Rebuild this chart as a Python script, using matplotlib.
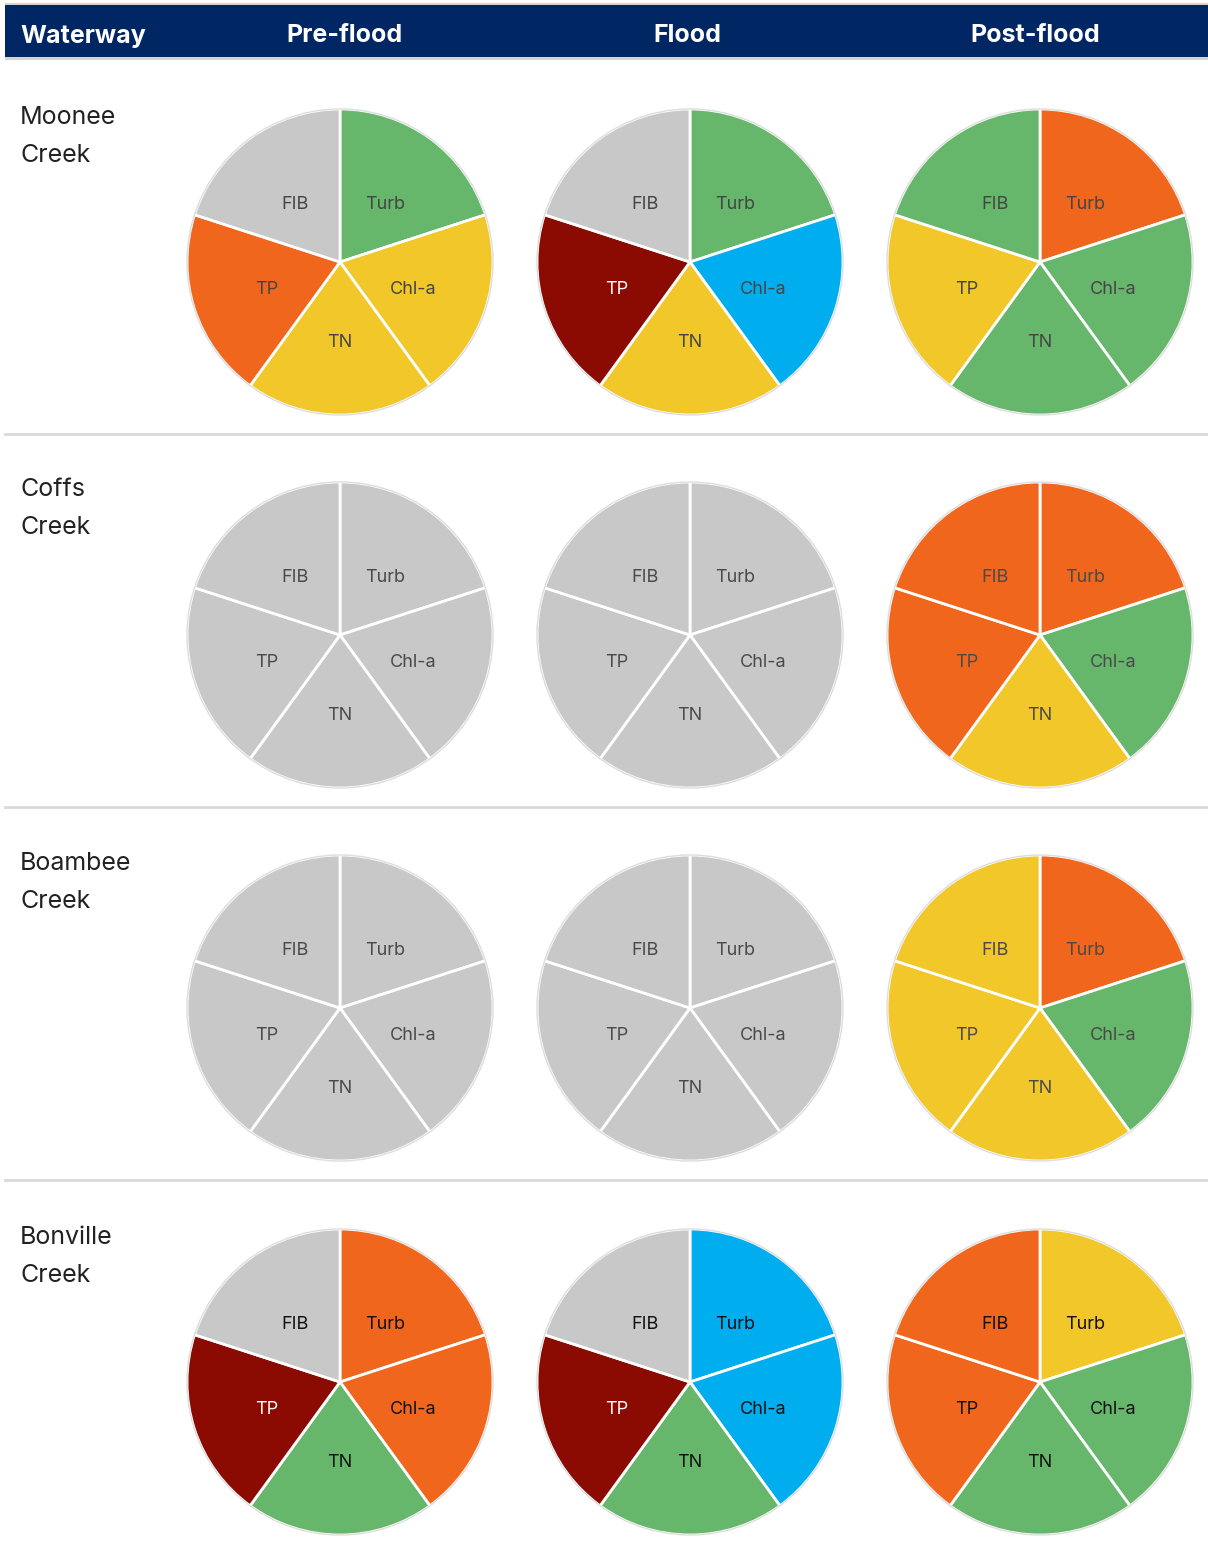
import matplotlib.pyplot as plt
from matplotlib.patches import Rectangle

# indicator slices, clockwise from 12 o'clock
indicators = ['Turb', 'Chl-a', 'TN', 'TP', 'FIB']
waterways = [['Moonee', 'Creek'], ['Coffs', 'Creek'],
             ['Boambee', 'Creek'], ['Bonville', 'Creek']]
periods = ['Pre-flood', 'Flood', 'Post-flood']

# grade per indicator (Turb, Chl-a, TN, TP, FIB)
moonee = [['green', 'yellow', 'yellow', 'orange', 'grey'],
          ['green', 'blue', 'yellow', 'red', 'grey'],
          ['orange', 'green', 'green', 'yellow', 'green']]
coffs = [['grey'] * 5,
         ['grey'] * 5,
         ['orange', 'green', 'yellow', 'orange', 'orange']]
boambee = [['grey'] * 5,
           ['grey'] * 5,
           ['orange', 'green', 'yellow', 'yellow', 'yellow']]
bonville = [['orange', 'orange', 'green', 'red', 'grey'],
            ['blue', 'blue', 'green', 'red', 'grey'],
            ['yellow', 'green', 'green', 'orange', 'orange']]
grades = [moonee, coffs, boambee, bonville]

palette = {'grey': '#C8C8C8', 'green': '#66B66B', 'yellow': '#F2C72A',
           'orange': '#F1661D', 'red': '#8B0A02', 'blue': '#00AEEF'}
label_col = ['#454545', '#4a4a4a', '#4a4a4a', '#111111']

W, H = 1208, 1548
fig = plt.figure(figsize=(W / 100, H / 100), dpi=100)
plt.rcParams['font.family'] = ['Inter', 'DejaVu Sans']

bg = fig.add_axes([0, 0, 1, 1])
bg.set_xlim(0, W)
bg.set_ylim(H, 0)
bg.axis('off')

# header bar
bg.add_patch(Rectangle((5, 3), W - 5, 57, color='#D4D4D4', lw=0))
bg.add_patch(Rectangle((5, 5), W - 5, 52, color='#002664', lw=0))
bg.text(20, 36, 'Waterway', color='white', fontsize=18, fontweight='bold',
        va='center', ha='left')
col_x = [340, 690, 1040]
head_x = [345, 687, 1035]
for hx, p in zip(head_x, periods):
    bg.text(hx, 36, p, color='white', fontsize=18, fontweight='bold',
            va='center', ha='center')

row_y = [262, 635, 1008, 1382]
for i, name in enumerate(waterways):
    for k, line in enumerate(name):
        bg.text(20, row_y[i] - 145 + 38 * k, line, fontsize=18,
                color='#222222', va='center', ha='left')
    if i < len(waterways) - 1:
        sep = (row_y[i] + row_y[i + 1]) / 2 - 15
        bg.plot([5, W], [sep, sep], color='#D9D9D9', lw=2)

R = 153
for i in range(len(waterways)):
    for j in range(len(periods)):
        cx, cy = col_x[j], row_y[i]
        ax = fig.add_axes([(cx - R - 3) / W, 1 - (cy + R + 3) / H,
                           (2 * R + 6) / W, (2 * R + 6) / H])
        cols = [palette[g] for g in grades[i][j]]
        r = R / (R + 3)
        wedges, texts = ax.pie([1] * 5, labels=indicators, colors=cols,
                               startangle=90, counterclock=False,
                               labeldistance=0.5,
                               wedgeprops=dict(edgecolor='white', linewidth=2),
                               textprops=dict(fontsize=13, ha='center',
                                              va='center'),
                               radius=r)
        for t, g in zip(texts, grades[i][j]):
            t.set_color('white' if g == 'red' else label_col[i])
            x, y = t.get_position()
            t.set_position((x, y - 0.027))
        ax.add_patch(plt.Circle((0, 0), r, fill=False,
                                edgecolor='#DDDDDD', lw=1))
        ax.set_xlim(-1, 1)
        ax.set_ylim(-1, 1)
        ax.set_aspect('equal')

fig.savefig('out.png', dpi=100)
